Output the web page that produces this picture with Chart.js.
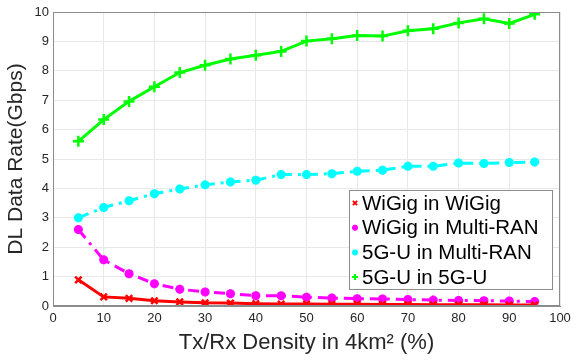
<!DOCTYPE html>
<html>
<head>
<meta charset="utf-8">
<script src="https://cdn.jsdelivr.net/npm/chart.js@4.4.1/dist/chart.umd.min.js"></script>
<style>
  html, body { margin: 0; padding: 0; background: #fff; }
  #wrap { width: 582px; height: 360px; }
</style>
</head>
<body>
<div id="wrap"><canvas id="chart" width="582" height="360"></canvas></div>
<script>
// Tx/Rx density (%)
const density = [5, 10, 15, 20, 25, 30, 35, 40, 45, 50, 55, 60, 65, 70, 75, 80, 85, 90, 95];

// DL data rate (Gbps)
const wigigInWigig = [0.89, 0.31, 0.26, 0.18, 0.14, 0.11, 0.10, 0.08, 0.07, 0.07, 0.06, 0.06, 0.05, 0.05, 0.04, 0.04, 0.04, 0.03, 0.03];
const wigigInMulti = [2.60, 1.57, 1.10, 0.76, 0.57, 0.48, 0.42, 0.35, 0.35, 0.30, 0.27, 0.25, 0.24, 0.22, 0.20, 0.19, 0.18, 0.17, 0.15];
const fiveGInMulti = [3.00, 3.35, 3.58, 3.82, 3.98, 4.12, 4.22, 4.28, 4.47, 4.47, 4.50, 4.58, 4.62, 4.75, 4.75, 4.86, 4.85, 4.88, 4.90];
const fiveGIn5G    = [5.60, 6.34, 6.96, 7.46, 7.94, 8.19, 8.40, 8.53, 8.66, 9.01, 9.09, 9.20, 9.18, 9.36, 9.43, 9.63, 9.77, 9.61, 9.92];

const seriesNames = ["WiGig in WiGig", "WiGig in Multi-RAN", "5G-U in Multi-RAN", "5G-U in 5G-U"];

const xTicks = { min: 0, max: 100, step: 10 };
const yTicks = { min: 0, max: 10, step: 1 };

const FONT = "'Liberation Sans', Arial, sans-serif";

function pts(ys) {
  return density.map((x, i) => ({ x: x, y: ys[i] }));
}

/* -------------------------------
   box + legend inside plot
--------------------------------*/
const boxLegend = {
  id: "boxLegend",
  afterDraw(chart) {
    const ctx = chart.ctx;
    const a = chart.chartArea;
    ctx.save();
    ctx.strokeStyle = "#8c8c8c";
    ctx.lineWidth = 1;
    ctx.strokeRect(a.left + 0.5, a.top + 0.5, a.right - a.left - 1, a.bottom - a.top - 1);

    // legend box
    const lx = 349, ly = 190, lw = 203, lh = 99;
    ctx.fillStyle = "#fff";
    ctx.fillRect(lx, ly, lw, lh);
    ctx.strokeStyle = "#8c8c8c";
    ctx.strokeRect(lx + 0.5, ly + 0.5, lw, lh);

    ctx.font = "20.5px " + FONT;
    ctx.textBaseline = "middle";
    chart.data.datasets.forEach((ds, i) => {
      const cy = ly + 13 + i * 24.7;
      const cx = lx + 6;
      ctx.strokeStyle = ds.borderColor;
      ctx.fillStyle = ds.borderColor;
      ctx.lineWidth = 2;
      Chart.helpers.drawPoint(ctx, {
        pointStyle: ds.pointStyle,
        radius: 3,
        borderWidth: 2
      }, cx, cy);
      ctx.fillStyle = "#000";
      ctx.fillText(ds.label, lx + 13, cy + 1);
    });
    ctx.restore();
  }
};

const datasets = [
  {
    label: seriesNames[0], data: pts(wigigInWigig),
    borderColor: "#ff0000", backgroundColor: "#ff0000",
    borderWidth: 3, pointStyle: "crossRot", pointRadius: 4.5, pointBorderWidth: 2.5
  },
  {
    label: seriesNames[1], data: pts(wigigInMulti),
    borderColor: "#ff00ff", backgroundColor: "#ff00ff",
    borderWidth: 3, borderDash: [11, 6, 3, 6],
    pointStyle: "star", pointRadius: 4.5, pointBorderWidth: 3
  },
  {
    label: seriesNames[2], data: pts(fiveGInMulti),
    borderColor: "#00ffff", backgroundColor: "#00ffff",
    borderWidth: 3, borderDash: [11, 6, 3, 6],
    pointStyle: "star", pointRadius: 4.5, pointBorderWidth: 3
  },
  {
    label: seriesNames[3], data: pts(fiveGIn5G),
    borderColor: "#00ff00", backgroundColor: "#00ff00",
    borderWidth: 3, pointStyle: "cross", pointRadius: 5.5, pointBorderWidth: 2.5
  }
];

new Chart(document.getElementById("chart"), {
  type: "scatter",
  data: { datasets: datasets.map(d => Object.assign({ showLine: true, tension: 0 }, d)) },
  options: {
    responsive: false,
    animation: false,
    layout: { padding: { top: 12, right: 22, left: 0, bottom: 0 } },
    plugins: { legend: { display: false }, tooltip: { enabled: false } },
    scales: {
      x: {
        type: "linear",
        min: xTicks.min, max: xTicks.max,
        afterFit(s) { s.height = 54; },
        ticks: { stepSize: xTicks.step, color: "#262626", font: { family: FONT, size: 13 }, padding: 5 },
        grid: { color: "#e8e8e8", drawTicks: false },
        border: { color: "#8c8c8c" },
        title: { display: true, text: "Tx/Rx Density in 4km\u00b2 (%)", color: "#262626",
                 font: { family: FONT, size: 22 }, padding: { top: 2 } }
      },
      y: {
        min: yTicks.min, max: yTicks.max,
        afterFit(s) { s.width = 53; },
        ticks: { stepSize: yTicks.step, color: "#262626", font: { family: FONT, size: 13 }, padding: 4 },
        grid: { color: "#e8e8e8", drawTicks: false },
        border: { color: "#8c8c8c" },
        title: { display: true, text: "DL Data Rate(Gbps)", color: "#262626",
                 font: { family: FONT, size: 21 }, padding: { bottom: 4 } }
      }
    }
  },
  plugins: [boxLegend]
});
</script>
</body>
</html>
